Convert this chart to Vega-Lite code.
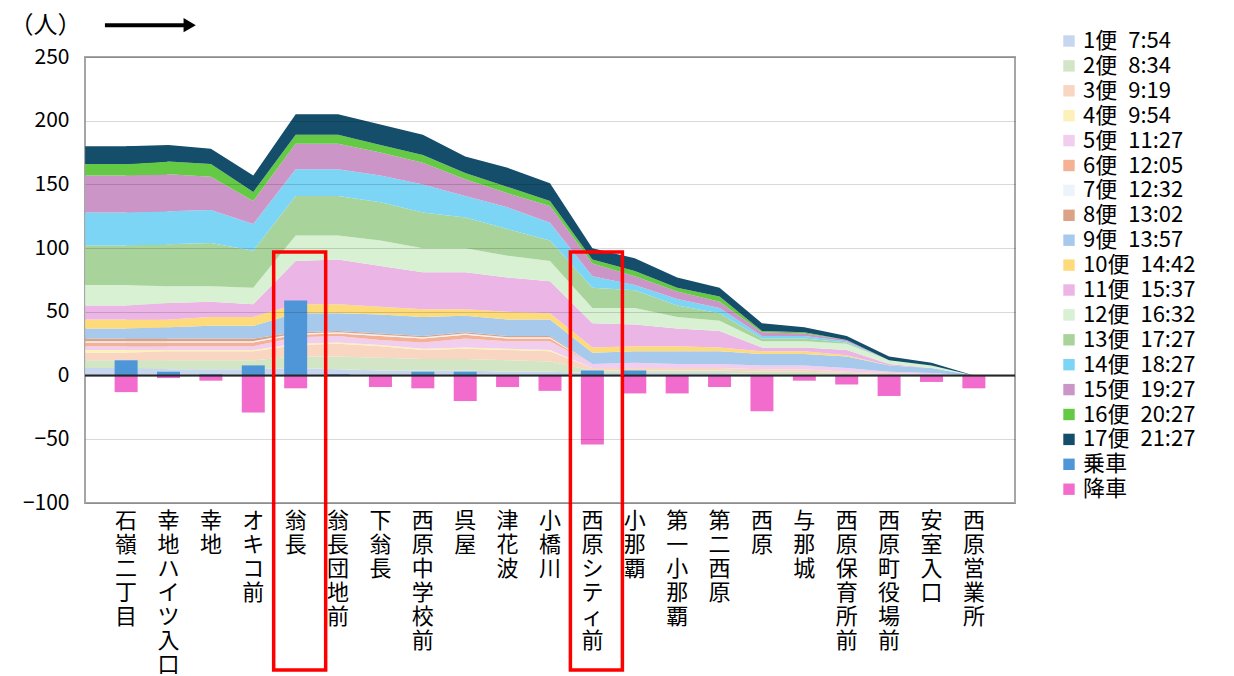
{
  "$schema": "https://vega.github.io/schema/vega-lite/v6.json",
  "width": 930,
  "height": 446,
  "autosize": {"type": "none"},
  "padding": {"left": 85, "top": 57, "right": 219, "bottom": 173},
  "background": "white",
  "config": {
    "font": "Noto Sans CJK JP",
    "view": {"stroke": "#a6a6a6", "strokeWidth": 2}
  },
  "datasets": {
    "stops": [
      {"s":"石嶺二丁目","1":6,"2":6,"3":6,"4":2,"5":3,"6":3,"7":1,"8":2,"9":8,"10":7,"11":11,"12":16,"13":31,"14":26,"15":29,"16":9,"17":14,"乗車":12,"降車":-13},
      {"s":"幸地ハイツ入口","1":5,"2":7,"3":7,"4":1,"5":3,"6":3,"7":1,"8":2,"9":9,"10":6,"11":13,"12":13,"13":33,"14":26,"15":29,"16":10,"17":13,"乗車":3,"降車":-2},
      {"s":"幸地","1":5,"2":7,"3":7,"4":1,"5":3,"6":3,"7":1,"8":2,"9":10,"10":7,"11":12,"12":12,"13":34,"14":26,"15":26,"16":10,"17":12,"乗車":1,"降車":-4},
      {"s":"オキコ前","1":5,"2":7,"3":7,"4":1,"5":3,"6":3,"7":1,"8":2,"9":10,"10":7,"11":10,"12":13,"13":29,"14":21,"15":18,"16":7,"17":13,"乗車":8,"降車":-29},
      {"s":"翁長","1":6,"2":9,"3":9,"4":1,"5":5,"6":2,"7":1,"8":1,"9":15,"10":7,"11":34,"12":20,"13":31,"14":21,"15":20,"16":7,"17":16,"乗車":59,"降車":-10},
      {"s":"翁長団地前","1":5,"2":10,"3":10,"4":1,"5":5,"6":2,"7":1,"8":1,"9":14,"10":7,"11":35,"12":19,"13":31,"14":21,"15":20,"16":7,"17":16,"乗車":1,"降車":0},
      {"s":"下翁長","1":4,"2":10,"3":9,"4":1,"5":4,"6":3,"7":1,"8":1,"9":15,"10":6,"11":32,"12":20,"13":30,"14":21,"15":18,"16":6,"17":16,"乗車":0,"降車":-9},
      {"s":"西原中学校前","1":4,"2":9,"3":7,"4":1,"5":5,"6":3,"7":1,"8":1,"9":15,"10":6,"11":29,"12":19,"13":28,"14":22,"15":17,"16":6,"17":16,"乗車":3,"降車":-10},
      {"s":"呉屋","1":4,"2":9,"3":8,"4":1,"5":7,"6":3,"7":1,"8":1,"9":13,"10":5,"11":29,"12":19,"13":24,"14":17,"15":13,"16":5,"17":13,"乗車":3,"降車":-20},
      {"s":"津花波","1":3,"2":9,"3":8,"4":1,"5":6,"6":2,"7":1,"8":1,"9":13,"10":6,"11":27,"12":17,"13":21,"14":17,"15":11,"16":5,"17":15,"乗車":0,"降車":-9},
      {"s":"小橋川","1":3,"2":8,"3":8,"4":1,"5":7,"6":2,"7":1,"8":1,"9":13,"10":5,"11":25,"12":16,"13":16,"14":14,"15":13,"16":4,"17":14,"乗車":0,"降車":-12},
      {"s":"西原シティ前","1":2,"2":2,"3":2,"4":0,"5":3,"6":0,"7":0,"8":0,"9":9,"10":4,"11":19,"12":12,"13":16,"14":9,"15":10,"16":3,"17":9,"乗車":4,"降車":-54},
      {"s":"小那覇","1":2,"2":2,"3":2,"4":0,"5":4,"6":0,"7":0,"8":0,"9":9,"10":4,"11":17,"12":13,"13":14,"14":4,"15":7,"16":4,"17":10,"乗車":4,"降車":-14},
      {"s":"第一小那覇","1":2,"2":2,"3":2,"4":0,"5":3,"6":0,"7":0,"8":0,"9":10,"10":4,"11":14,"12":9,"13":9,"14":5,"15":6,"16":3,"17":8,"乗車":0,"降車":-14},
      {"s":"第二西原","1":2,"2":2,"3":2,"4":0,"5":3,"6":0,"7":0,"8":0,"9":10,"10":3,"11":13,"12":8,"13":6,"14":4,"15":5,"16":4,"17":7,"乗車":0,"降車":-9},
      {"s":"西原","1":1,"2":2,"3":2,"4":0,"5":3,"6":0,"7":0,"8":0,"9":9,"10":2,"11":3,"12":5,"13":2,"14":2,"15":3,"16":1,"17":6,"乗車":0,"降車":-28},
      {"s":"与那城","1":1,"2":2,"3":2,"4":0,"5":3,"6":0,"7":0,"8":0,"9":9,"10":2,"11":3,"12":5,"13":2,"14":2,"15":2,"16":1,"17":4,"乗車":0,"降車":-4},
      {"s":"西原保育所前","1":1,"2":1,"3":1,"4":0,"5":3,"6":0,"7":0,"8":0,"9":9,"10":1,"11":4,"12":5,"13":1,"14":1,"15":1,"16":0,"17":3,"乗車":0,"降車":-7},
      {"s":"西原町役場前","1":1,"2":0,"3":1,"4":0,"5":1,"6":0,"7":0,"8":0,"9":5,"10":0,"11":1,"12":3,"13":0,"14":0,"15":0,"16":0,"17":3,"乗車":0,"降車":-16},
      {"s":"安室入口","1":1,"2":0,"3":0,"4":0,"5":1,"6":0,"7":0,"8":0,"9":4,"10":0,"11":0,"12":2,"13":0,"14":0,"15":0,"16":0,"17":2,"乗車":0,"降車":-5},
      {"s":"西原営業所","1":0,"2":0,"3":0,"4":0,"5":0,"6":0,"7":0,"8":0,"9":0,"10":0,"11":0,"12":0,"13":0,"14":0,"15":0,"16":0,"17":0,"乗車":0,"降車":-10}
    ],
    "trips": [
      {"k":"1","ord":1,"name":"1便\u20027:54"},
      {"k":"2","ord":2,"name":"2便\u20028:34"},
      {"k":"3","ord":3,"name":"3便\u20029:19"},
      {"k":"4","ord":4,"name":"4便\u20029:54"},
      {"k":"5","ord":5,"name":"5便\u200211:27"},
      {"k":"6","ord":6,"name":"6便\u200212:05"},
      {"k":"7","ord":7,"name":"7便\u200212:32"},
      {"k":"8","ord":8,"name":"8便\u200213:02"},
      {"k":"9","ord":9,"name":"9便\u200213:57"},
      {"k":"10","ord":10,"name":"10便\u200214:42"},
      {"k":"11","ord":11,"name":"11便\u200215:37"},
      {"k":"12","ord":12,"name":"12便\u200216:32"},
      {"k":"13","ord":13,"name":"13便\u200217:27"},
      {"k":"14","ord":14,"name":"14便\u200218:27"},
      {"k":"15","ord":15,"name":"15便\u200219:27"},
      {"k":"16","ord":16,"name":"16便\u200220:27"},
      {"k":"17","ord":17,"name":"17便\u200221:27"}
    ],
    "boxes": [
      {"s":"翁長","top":97,"bottom":-231},
      {"s":"西原シティ前","top":97,"bottom":-231}
    ],
    "arrow": [
      {"a":"石嶺二丁目","b":"幸地","y":275}
    ]
  },
  "layer": [
    {
      "data": {"name": "stops"},
      "transform": [
        {"filter": "datum.s === '石嶺二丁目'"},
        {"fold": ["1","2","3","4","5","6","7","8","9","10","11","12","13","14","15","16","17"], "as": ["k","v"]},
        {"lookup": "k", "from": {"data": {"name": "trips"}, "key": "k", "fields": ["name","ord"]}}
      ],
      "mark": {"type": "bar", "size": 82},
      "encoding": {
        "x": {"field": "s", "type": "nominal", "sort": null},
        "y": {"field": "v", "type": "quantitative", "stack": "zero"},
        "order": {"field": "ord", "type": "quantitative", "sort": "ascending"},
        "color": {"field": "name", "type": "nominal"}
      }
    },
    {
      "data": {"name": "stops"},
      "transform": [
        {"fold": ["1","2","3","4","5","6","7","8","9","10","11","12","13","14","15","16","17"], "as": ["k","v"]},
        {"lookup": "k", "from": {"data": {"name": "trips"}, "key": "k", "fields": ["name","ord"]}}
      ],
      "mark": {"type": "area", "interpolate": "linear"},
      "encoding": {
        "x": {
          "field": "s", "type": "nominal", "sort": null,
          "scale": {"type": "band", "paddingInner": 0, "paddingOuter": 0.47},
          "axis": {
            "title": null,
            "labelExpr": "split(datum.label, '')",
            "labelAngle": 0,
            "labelFontSize": 22,
            "labelLineHeight": 24,
            "labelBaseline": "top",
            "labelAlign": "center",
            "labelPadding": 7,
            "labelColor": "#000",
            "labelOverlap": false,
            "labelBound": false,
            "ticks": false,
            "domain": false,
            "grid": false
          }
        },
        "y": {
          "field": "v", "type": "quantitative", "stack": "zero",
          "scale": {"domain": [-100, 250], "nice": false, "zero": false},
          "axis": {
            "title": "（人）",
            "titleAngle": 0,
            "titleX": -40,
            "titleY": -32,
            "titleAlign": "center",
            "titleBaseline": "middle",
            "titleFontSize": 24,
            "titleFontWeight": "normal",
            "titleColor": "#000",
            "values": [-100, -50, 0, 50, 100, 150, 200, 250],
            "labelFontSize": 21,
            "labelPadding": 16,
            "labelColor": "#000",
            "ticks": false,
            "domain": false,
            "grid": true,
            "gridColor": "#000",
            "gridOpacity": 0.15,
            "zindex": 1
          }
        },
        "order": {"field": "ord", "type": "quantitative", "sort": "ascending"},
        "color": {
          "field": "name", "type": "nominal",
          "scale": {
            "domain": ["1便\u20027:54","2便\u20028:34","3便\u20029:19","4便\u20029:54","5便\u200211:27","6便\u200212:05","7便\u200212:32","8便\u200213:02","9便\u200213:57","10便\u200214:42","11便\u200215:37","12便\u200216:32","13便\u200217:27","14便\u200218:27","15便\u200219:27","16便\u200220:27","17便\u200221:27","乗車","降車"],
            "range": ["#c6d6ee","#d2e6c6","#f8d6c2","#fcf1b8","#f1cdee","#f4b193","#edf3fb","#dba286","#a7c9eb","#fddb7b","#ebb5e5","#d8f1d2","#a8d39b","#7dd5f5","#cc95c7","#64c945","#154e6b","#4f96d9","#f26ccd"]
          },
          "legend": {
            "title": null,
            "orient": "none",
            "legendX": 973,
            "legendY": -27,
            "padding": 0,
            "symbolType": "square",
            "symbolSize": 130,
            "symbolStrokeWidth": 0,
            "symbolOpacity": 1,
            "labelFontSize": 22,
            "labelColor": "#000",
            "labelOffset": 3,
            "rowPadding": 2.9,
            "labelLimit": 200
          }
        }
      }
    },
    {
      "data": {"name": "stops"},
      "transform": [
        {"fold": ["乗車","降車"], "as": ["k","v"]}
      ],
      "mark": {"type": "bar", "size": 23},
      "encoding": {
        "x": {"field": "s", "type": "nominal", "sort": null},
        "y": {"field": "v", "type": "quantitative", "stack": null},
        "color": {"field": "k", "type": "nominal"}
      }
    },
    {
      "data": {"values": [{}]},
      "mark": {"type": "rule", "color": "#262626", "strokeWidth": 2},
      "encoding": {"y": {"datum": 0}}
    },
    {
      "data": {"name": "boxes"},
      "mark": {"type": "bar", "filled": false, "stroke": "#ff0000", "strokeWidth": 3.5, "size": 52, "xOffset": 4},
      "encoding": {
        "x": {"field": "s", "type": "nominal", "sort": null},
        "y": {"field": "top", "type": "quantitative"},
        "y2": {"field": "bottom"}
      }
    },
    {
      "data": {"name": "arrow"},
      "mark": {"type": "rule", "color": "#000", "strokeWidth": 4},
      "encoding": {
        "x": {"field": "a", "type": "nominal", "sort": null, "bandPosition": 0},
        "x2": {"field": "b", "bandPosition": 0},
        "y": {"field": "y", "type": "quantitative"}
      }
    },
    {
      "data": {"name": "arrow"},
      "mark": {"type": "point", "shape": "triangle-right", "filled": true, "size": 200, "color": "#000", "opacity": 1},
      "encoding": {
        "x": {"field": "b", "type": "nominal", "sort": null, "bandPosition": 0},
        "y": {"field": "y", "type": "quantitative"}
      }
    }
  ]
}
